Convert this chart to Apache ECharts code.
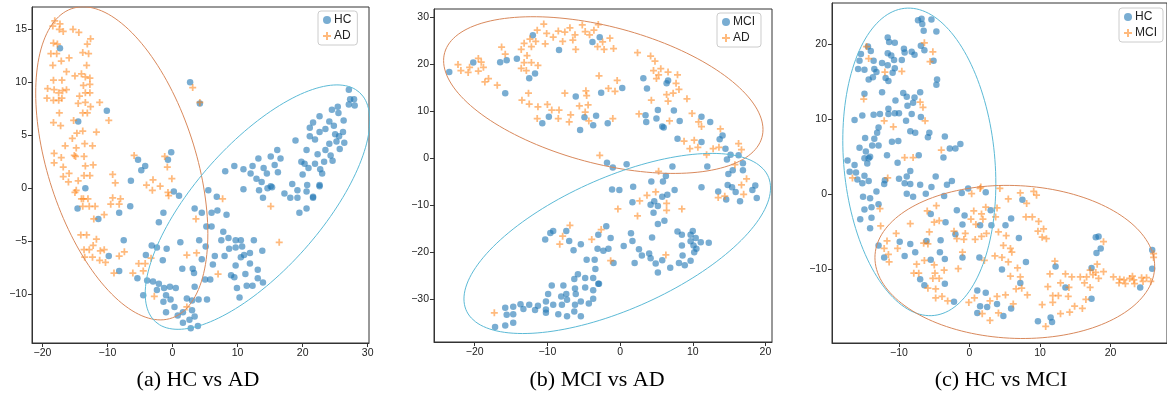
<!DOCTYPE html>
<html>
<head>
<meta charset="utf-8">
<script src="https://cdn.jsdelivr.net/npm/echarts@6/dist/echarts.min.js"></script>
<style>
html, body { margin: 0; padding: 0; background: #fff; }
#chart { width: 1167px; height: 395px; }
</style>
</head>
<body>
<div id="chart"></div>
<script>
// (a) HC vs AD
const hcA = [[-17.3,13.2],[-14.5,6.3],[-10.1,7.3],[-13.4,0.0],[-6.4,0.7],[-5.3,2.7],[-4.8,1.7],[-4.2,2.1],[-0.7,2.7],[-0.2,3.4],[0.2,-0.3],[1.0,-0.7],[2.7,10.0],[4.2,8.0],
  [-14.6,-1.9],[-11.4,-2.9],[-6.5,-1.7],[-8.2,-2.3],[-7.5,-4.9],[-9.8,-6.4],[-8.2,-7.8],[-5.4,-8.5],[-4.1,-6.3],[-3.2,-5.4],[-2.4,-5.6],[-0.9,-5.7],[-1.5,-6.8],[-1.4,-2.3],[-2.1,-3.2],[1.2,-5.1],[3.4,-1.9],[4.1,-4.9],
  [-4.5,-10.1],[-3.9,-8.7],[-3.0,-8.8],[-2.1,-9.0],[-2.4,-9.6],[-1.3,-9.4],[-0.4,-9.3],[0.5,-9.4],[-1.0,-10.1],[-1.4,-10.7],[-0.3,-10.5],[0.3,-11.2],[-1.0,-11.7],[0.8,-12.0],[1.6,-11.7],[2.2,-10.4],[1.5,-7.6],[3.1,-7.6],[3.3,-8.0],[3.4,-9.3],[3.0,-10.6],[4.0,-10.5],[3.0,-11.5],[1.6,-12.7],[2.6,-12.4],[2.8,-13.2],[3.9,-13.0],
  [27.1,9.3],[27.3,8.4],[27.9,8.4],[27.1,7.9],[28.0,7.8],[24.5,7.4],[25.4,7.7],[25.5,7.1],[22.6,6.8],[26.3,6.4],[21.6,6.2],[24.1,6.3],[21.1,5.7],[23.5,5.6],[24.8,5.9],[22.6,5.3],[21.1,4.9],[21.9,4.6],[25.0,5.1],[25.6,4.9],[26.2,5.3],[18.9,4.5],[24.1,4.2],[25.2,4.4],[26.4,4.3],[20.6,3.6],[23.5,3.6],[24.3,3.1],[22.3,3.2],[25.7,3.7],[16.1,3.6],[15.1,3.0],[13.2,2.8],[16.6,2.8],[19.8,2.5],[20.3,2.3],[21.9,2.3],[23.3,2.5],[24.6,2.6],[9.5,2.1],[10.9,1.8],[12.3,2.1],[15.7,2.2],[14.0,1.9],[8.1,1.6],[20.0,1.3],[20.9,1.9],[22.7,1.8],[23.0,1.4],[12.0,1.4],[12.9,0.9],[14.5,1.4],[16.2,1.5],[13.7,0.6],[14.6,0.0],[15.1,0.2],[18.4,0.4],[19.2,-0.2],[20.7,0.3],[20.6,-0.3],[22.6,0.3],[21.6,-0.8],[17.2,-0.5],[10.9,-0.1],[13.3,-0.2],[5.5,-0.2],[6.8,-0.8],
  [13.9,-0.9],[15.3,0.1],[18.1,-0.9],[19.2,-0.9],[21.6,-0.9],[22.6,0.2],[19.5,-2.3],[20.6,-1.9],[4.5,-2.3],[6.0,-2.3],[6.9,-2.1],[8.3,-2.5],[5.2,-3.6],[6.0,-3.6],[7.8,-4.1],[7.5,-4.9],[8.6,-4.7],[9.7,-4.9],[10.5,-4.9],[12.5,-4.9],[8.7,-5.7],[9.7,-5.6],[10.7,-5.5],[10.5,-6.5],[11.0,-6.3],[11.9,-6.1],[13.8,-5.9],[8.0,-6.4],[6.5,-6.4],[5.1,-5.5],[4.5,-6.7],[6.2,-7.2],[9.7,-7.3],[11.9,-7.1],[13.1,-7.7],[5.0,-8.6],[5.8,-8.6],[9.0,-8.2],[9.5,-8.4],[11.2,-8.1],[13.1,-8.5],[13.9,-8.9],[11.4,-9.2],[12.3,-9.2],[9.9,-9.4],[10.3,-10.3],[5.3,-10.5],[3.4,-12.1]];
const adA = [[-18.1,15.8],[-17.3,15.5],[-18.4,15.3],[-17.4,15.0],[-16.8,14.8],[-15.3,15.0],[-14.4,14.7],[-18.3,13.7],[-17.7,13.6],[-12.6,14.1],[-13.1,13.6],[-18.7,12.7],[-17.8,12.7],[-13.8,12.8],[-12.9,12.7],[-18.4,11.6],[-17.1,12.0],[-15.9,12.3],[-13.2,11.6],[-16.3,11.0],[-15.0,10.6],[-14.0,10.8],[-13.4,10.5],[-12.7,10.4],[-18.3,10.2],[-17.0,10.2],[-19.2,9.4],[-18.2,9.3],[-17.5,9.0],[-16.9,9.2],[-16.3,9.3],[-19.3,8.5],[-18.3,8.3],[-17.5,8.3],[-17.0,8.5],[-13.7,9.7],[-12.7,9.8],[-14.3,8.7],[-13.4,9.0],[-12.7,9.0],[-14.5,8.0],[-13.4,8.1],[-12.6,7.7],[-11.2,8.1],[-17.4,7.1],[-13.8,7.1],[-13.1,7.1],[-9.8,6.4],[-15.2,6.4],[-18.3,6.2],[-17.2,5.9],[-16.5,4.0],[-15.4,4.7],[-14.7,5.2],[-13.8,5.4],[-12.3,4.0],[-13.5,4.2],[-14.8,3.8],[-13.6,3.0],[-14.9,3.0],[-11.7,5.3],[-18.2,3.3],[-17.1,2.9],[-18.2,2.4],[-16.8,2.0],[-15.1,3.1],[-13.4,2.1],[-12.2,2.2],[-15.9,1.4],[-16.8,1.1],[-14.5,0.7],[-16.0,0.6],[-13.6,1.2],[-12.7,1.2],[-14.8,-0.2],[-13.7,-1.0],[-9.2,1.3],[-8.8,0.5],[-5.9,3.1],[-4.0,0.3],[-3.0,0.8],[-3.1,-0.2],[-1.9,0.2],[-1.2,3.0],[-0.8,2.0],[-0.1,0.9],[-0.7,-0.4],[-9.2,-0.9],[-8.0,-1.0],[3.1,9.5],[4.2,8.1],
  [-15.0,-0.4],[-14.0,-1.0],[-13.0,-1.0],[-13.8,-1.7],[-12.8,-1.7],[-11.9,-1.7],[-10.5,-2.5],[-12.1,-2.9],[-9.5,-1.5],[-8.2,-1.5],[-14.1,-4.4],[-13.2,-4.4],[-11.7,-4.8],[-13.6,-5.8],[-12.8,-5.8],[-12.2,-5.4],[-11.1,-5.9],[-10.5,-5.8],[-13.5,-6.5],[-12.3,-6.5],[-11.2,-6.8],[-10.3,-7.0],[-8.2,-6.4],[-7.4,-6.0],[-9.0,-8.0],[-6.1,-8.0],[-5.2,-7.1],[-4.2,-7.1],[-4.5,-7.8],[-3.3,-6.6],[-2.8,-10.2],[2.2,-6.3],[3.7,-6.1],[3.6,-2.9],[-0.6,-0.7],
  [7.7,-1.0],[15.1,-1.7],[7.0,-8.1],[16.4,-5.1],[2.2,-11.2]];

// (b) MCI vs AD
const mciB = [[-23.5,18.3],[-20.2,20.3],[-16.5,20.4],[-15.6,20.8],[-14.2,21.1],[-15.8,13.8],[-12.5,17.0],[-11.7,18.0],[-12.0,26.1],[-8.4,23.0],[-10.7,7.4],[-9.8,8.8],[-6.1,13.1],[-5.5,6.0],[-4.9,8.7],[-3.7,7.0],[-3.3,9.0],[-3.8,24.7],[-2.8,25.7],
  [3.2,17.0],[3.7,14.8],[6.4,15.9],[6.6,16.5],[0.3,14.9],[-2.6,13.9],[-1.7,7.4],[3.5,9.1],[3.6,7.7],[5.2,10.2],[5.0,8.4],[5.8,6.7],[6.0,6.5],[7.4,10.1],[8.2,7.9],[11.2,8.8],[12.4,7.7],[7.9,4.1],[11.2,3.4],[13.7,4.0],[14.1,4.8],[14.5,2.0],[15.2,0.7],[16.3,0.6],[14.7,-0.3],[16.9,-1.1],[-1.8,-1.0],[-1.0,-2.0],[0.9,-1.3],[7.2,-1.8],[12.0,-1.8],[15.5,-2.6],[16.9,-2.6],[14.9,-3.4],[6.3,-3.8],[5.9,-5.0],[4.3,-5.0],[1.8,-6.1],
  [-10.3,-17.3],[-9.6,-15.9],[-9.2,-15.5],[-7.4,-15.5],[-7.0,-17.6],[-6.4,-19.6],[-5.4,-18.3],[-3.1,-19.3],[-3.0,-16.3],[-4.6,-21.6],[-3.4,-23.6],[-3.5,-21.6],[-5.8,-24.7],[-6.3,-25.7],[-4.8,-25.5],[-3.7,-25.5],[-3.0,-26.7],[-6.2,-27.7],[-4.8,-27.5],[-3.7,-28.1],[-9.4,-27.1],[-7.8,-27.1],[-9.9,-28.9],[-8.1,-29.4],[-7.4,-28.9],[-7.3,-30.1],[-6.1,-28.9],[-5.4,-30.5],[-4.3,-30.9],[-3.7,-29.9],[-10.2,-30.5],[-9.2,-31.2],[-8.0,-31.2],[-6.2,-31.2],[-11.3,-31.4],[-10.2,-32.2],[-11.7,-32.3],[-12.5,-31.2],[-13.7,-31.1],[-13.3,-32.1],[-10.2,-32.9],[-8.5,-33.2],[-7.3,-33.6],[-6.3,-32.6],[-5.4,-33.6],[-15.8,-31.8],[-14.7,-31.6],[-15.6,-33.3],[-14.7,-33.2],[-14.7,-35.0],[-15.8,-35.6],[-17.2,-35.9],
  [-1.1,-6.7],[-0.1,-6.8],[7.5,-6.8],[11.2,-6.2],[14.8,-5.7],[13.5,-7.1],[14.6,-8.8],[15.4,-6.2],[15.9,-7.2],[16.5,-9.2],[18.2,-6.8],[18.6,-5.8],[18.8,-8.5],[1.7,-9.4],[4.2,-9.9],[4.7,-9.2],[5.2,-10.2],[5.8,-8.2],[6.5,-7.8],[4.6,-11.6],[5.2,-14.0],[6.1,-13.3],[-1.9,-14.5],[-1.3,-17.0],[-2.3,-19.7],[-1.6,-19.3],[0.5,-18.7],[1.5,-16.0],[1.7,-17.6],[2.6,-19.4],[3.0,-20.7],[2.0,-22.3],[4.0,-20.3],[4.2,-21.3],[4.9,-22.4],[5.2,-24.3],[4.4,-16.9],[5.8,-21.7],[6.9,-23.3],[7.9,-15.6],[8.5,-16.3],[8.5,-18.6],[8.6,-20.7],[8.1,-22.3],[8.9,-22.8],[9.7,-21.8],[9.7,-16.3],[10.0,-15.5],[9.7,-17.7],[10.4,-17.0],[10.1,-18.6],[10.5,-19.3],[10.2,-20.0],[11.1,-17.9],[12.2,-18.0],[-0.9,-22.3],[-2.9,-26.7]];
const adB = [[-22.3,19.9],[-21.9,18.6],[-20.9,18.2],[-20.7,19.3],[-19.5,21.2],[-19.1,20.4],[-18.8,19.3],[-19.5,18.5],[-18.6,16.2],[-18.1,16.9],[-16.9,15.5],[-16.3,23.6],[-15.8,22.1],[-13.6,23.1],[-13.2,24.4],[-12.8,21.8],[-12.4,25.3],[-12.2,23.7],[-11.6,24.8],[-11.4,27.2],[-10.5,28.5],[-10.1,26.5],[-10.3,24.3],[-9.2,25.7],[-8.5,27.0],[-7.9,24.8],[-7.6,26.8],[-6.9,27.7],[-6.2,26.2],[-6.5,25.1],[-6.1,23.1],[-5.2,28.3],[-4.8,26.9],[-4.2,26.2],[-3.6,27.2],[-3.0,28.4],[-13.2,20.3],[-13.6,19.1],[-12.9,18.6],[-12.2,20.3],[-11.3,19.7],[-12.6,13.8],[-13.5,12.3],[-12.5,11.5],[-11.3,10.9],[-10.0,11.4],[-9.4,10.2],[-8.4,10.2],[-11.4,8.4],[-8.5,8.4],[-6.8,9.2],[-7.0,7.7],[-7.6,13.8],[-5.6,11.1],[-4.7,14.3],[-4.6,13.3],[-4.4,11.3],[-4.8,9.8],[-4.3,7.9],[-2.9,17.5],[-2.8,0.6],
  [-2.4,24.7],[-1.4,25.5],[-3.1,23.7],[-2.2,23.1],[-0.9,23.3],[2.4,22.4],[4.2,21.7],[4.8,20.6],[4.6,18.6],[5.6,19.0],[5.3,17.7],[5.0,16.9],[6.6,18.3],[7.9,17.7],[7.7,15.9],[7.3,13.8],[8.1,14.6],[6.4,13.5],[4.3,12.3],[6.6,12.1],[9.2,12.6],[-0.4,16.5],[-1.6,14.8],[-0.7,14.2],[-1.0,8.4],[2.6,9.4],[6.8,7.9],[9.9,9.5],[10.8,7.7],[11.2,6.7],[13.8,6.2],[8.8,3.6],[9.6,2.0],[10.2,3.8],[10.7,2.3],[11.9,0.7],[12.8,2.0],[13.6,2.3],[16.3,3.1],[16.7,1.8],[15.8,-1.4],[17.4,-4.4],[16.7,-5.7],[5.3,-2.8],
  [-6.9,-14.3],[-7.9,-16.6],[-8.3,-18.3],[-3.9,-17.3],[-17.3,-32.9],
  [-0.3,-10.8],[2.4,-12.3],[2.7,-9.1],[3.7,-7.9],[4.9,-7.2],[6.4,-9.6],[6.4,-11.1],[8.5,-10.8],[13.5,-8.4],[14.4,-8.1],[17.0,-7.7],[-2.6,-15.2],[-1.3,-21.8],[6.3,-20.6]];

// (c) HC vs MCI
const hcC = [[-7.3,23.2],[-6.8,23.4],[-6.7,22.7],[-6.5,21.8],[-5.4,23.3],[-4.7,21.7],[-15.4,18.7],[-15.6,17.8],[-15.8,16.7],[-14.4,19.7],[-14.0,19.1],[-14.9,16.6],[-14.3,15.3],[-13.6,17.8],[-13.5,16.7],[-13.7,15.6],[-13.2,16.3],[-11.6,20.9],[-11.4,20.3],[-10.6,20.2],[-11.6,18.8],[-11.1,18.5],[-12.4,17.5],[-11.6,17.2],[-10.7,17.9],[-11.9,15.5],[-11.5,15.1],[-10.9,16.2],[-10.6,16.8],[-9.6,17.9],[-9.3,19.4],[-9.2,18.9],[-8.2,19.0],[-7.8,18.6],[-6.9,19.8],[-6.4,19.2],[-5.1,17.8],[-4.6,15.3],[-4.7,14.6],[-14.9,13.4],[-16.3,9.9],[-15.2,10.5],[-12.4,13.6],[-10.5,12.5],[-9.4,13.5],[-8.9,13.0],[-8.8,11.8],[-7.8,12.9],[-8.0,12.2],[-7.0,13.6],[-11.5,11.4],[-11.5,10.7],[-10.6,10.8],[-10.0,10.8],[-13.6,10.6],[-12.7,10.7],[-9.0,9.8],[-8.2,10.7],[-6.9,10.3],[-8.4,8.4],[-7.7,8.2],[-5.7,8.2],[-5.9,7.6],[-3.5,7.7],[-1.3,6.7],[-2.8,6.1],[-2.0,6.1],[-3.7,4.9],[-7.2,5.2],[-10.2,4.2],[-11.7,5.2],[-11.0,7.0],[-10.1,7.1],[-12.9,8.9],[-13.1,8.2],[-13.5,7.4],[-13.8,6.5],[-12.9,6.5],[-14.8,7.5],[-15.6,6.2],[-14.7,5.7],[-14.9,4.8],[-14.3,4.8],[-14.5,4.1],[-14.1,5.0],[-17.3,4.5],[-16.3,3.9],[-17.0,3.0],[-16.1,2.9],[-15.9,2.0],[-14.9,2.5],[-14.3,1.8],[-15.2,1.5],[-12.0,1.9],[-12.1,1.4],[-10.0,2.1],[-8.9,2.4],[-8.4,3.1],[-9.2,1.5],[-8.4,1.4],[-7.0,1.3],[-4.8,2.4],[-5.4,1.0],[-3.2,1.3],[-2.5,1.8],[-0.2,0.8],
  [-15.1,-0.3],[-14.1,-0.5],[-13.2,0.4],[-14.9,-2.0],[-13.9,-1.7],[-12.9,-1.3],[-15.5,-3.3],[-13.9,-3.1],[-14.1,-4.5],[-12.9,-6.8],[-12.1,-8.4],[-8.9,0.1],[-8.0,-0.3],[-6.2,0.1],[-3.6,-0.2],[-5.5,-2.6],[-3.4,-3.7],[-4.1,-6.1],[-9.9,-6.3],[-8.4,-6.6],[-6.1,-6.2],[-7.7,-7.7],[-9.2,-8.2],[-5.5,-8.7],[-4.2,-7.7],[-3.5,-8.6],[-7.0,-11.3],[-6.4,-12.1],[-3.5,-11.9],[-2.2,-14.3],[-1.8,-2.1],[-0.7,-2.8],[-2.0,-5.3],[-1.0,-4.0],[1.5,-4.1],[-1.0,-8.4],[1.4,-8.4],[-1.1,0.2],[2.3,0.3],
  [3.0,-2.1],[3.1,-4.1],[5.1,-4.1],[5.9,-3.2],[7.5,-0.7],[7.0,-5.8],[4.6,-10.0],[8.0,-9.0],[7.2,-11.8],[1.1,-12.8],[2.3,-13.1],[1.5,-14.9],[2.5,-15.0],[1.1,-15.8],[3.9,-14.6],[4.8,-16.2],[5.9,-15.2],[9.7,-16.9],[11.5,-16.4],[11.7,-17.0],[12.2,-9.6],[13.6,-12.4],[17.3,-9.8],[17.3,-13.9],[17.9,-5.7],[18.3,-5.6],[18.0,-7.8],[18.6,-7.2],[24.2,-12.4],[25.9,-7.4],[25.9,-9.9]];
const mciC = [[-14.6,19.7],[-14.3,18.1],[-12.0,16.3],[-9.6,16.4],[-15.0,12.7],[-7.0,12.3],[-6.6,11.6],[-6.3,9.8],[-12.1,9.8],[-10.8,9.0],[-6.4,20.2],[-5.2,19.0],[-5.6,17.7],[-4.0,5.9],[-9.2,4.9],[-8.0,4.9],[-11.6,2.2],[-16.6,2.2],[1.6,1.0],
  [-12.7,-1.9],[-12.6,-4.2],[-11.7,-6.2],[-12.1,-7.2],[-11.5,-8.0],[-11.4,-9.0],[-10.4,-5.2],[-10.2,-7.2],[-8.4,-3.9],[-6.5,-6.5],[-5.7,-5.0],[-7.5,-9.3],[-7.9,-10.5],[-7.2,-10.5],[-6.4,-8.8],[-6.0,-2.2],[-5.0,-3.7],[-4.3,-3.5],[-4.7,-1.5],[-5.9,-6.6],[-5.0,-9.4],[-4.9,-10.5],[-5.2,-11.2],[-4.3,-11.2],[-5.9,-12.5],[-4.8,-12.6],[-4.8,-13.8],[-3.9,-13.6],[-3.1,-14.2],[-3.6,-10.1],[-1.6,-9.9],[-2.2,-4.9],[-1.8,-5.9],[-0.8,-6.0],[-0.6,-5.2],[-1.0,-7.7],[0.2,-3.3],[0.6,-2.2],[0.8,-6.0],[1.7,-5.6],[1.7,-2.6],[1.9,-3.3],[0.9,-4.0],[0.3,0.1],[-0.1,-14.4],[0.7,-13.8],[1.8,-15.9],[2.1,-8.8],
  [1.5,0.8],[4.3,0.8],[5.5,-0.6],[7.2,0.2],[9.1,0.4],[9.5,-0.1],[8.1,-1.2],[2.3,-1.7],[3.9,-1.8],[3.7,-3.0],[2.4,-5.2],[4.1,-5.0],[5.2,-5.5],[4.8,-6.8],[5.8,-7.2],[6.0,-7.7],[8.0,-3.0],[8.9,-3.0],[9.8,-3.6],[9.7,-4.9],[10.5,-4.6],[10.3,-5.7],[10.9,-5.9],[3.6,-8.2],[4.6,-8.4],[5.5,-9.0],[5.8,-10.9],[6.8,-9.8],[7.2,-11.0],[6.6,-12.6],[7.4,-12.5],[8.2,-13.4],[5.1,-13.4],[3.9,-13.6],[2.9,-14.2],[4.1,-15.8],[6.2,-14.6],[2.9,-16.8],[11.4,-10.6],[12.1,-8.9],[11.1,-12.3],[11.8,-13.5],[12.6,-13.5],[11.8,-14.4],[10.3,-14.7],[12.9,-15.9],[10.8,-17.6],[14.0,-13.6],[14.1,-12.4],[13.6,-10.6],[12.9,-11.8],[14.5,-11.0],[14.9,-14.9],[16.0,-15.2],[14.2,-15.7],[15.7,-11.0],[16.6,-11.0],[16.3,-11.8],[16.5,-14.0],[17.1,-12.4],[17.1,-10.1],[17.5,-10.7],[17.9,-10.4],[18.3,-11.2],[19.0,-10.3],[18.1,-9.3],[19.0,-6.3],[20.4,-11.0],[21.3,-11.3],[21.2,-11.8],[21.9,-11.4],[22.7,-11.2],[23.1,-10.9],[22.1,-11.9],[23.4,-11.9],[23.3,-11.4],[24.4,-11.1],[24.6,-11.6],[25.1,-11.1],[25.7,-11.6],[26.1,-7.9],[26.1,-8.4]];

// ellipses: [centerX, centerY, halfWidth, halfHeight, correlation]
const ellA_AD = [-7.8, 2.35, 13.23, 14.77, -0.449];
const ellA_HC = [13.06, -1.78, 17.26, 11.53, 0.708];
const ellB_AD = [-2.31, 13.4, 21.97, 16.66, -0.44];
const ellB_MCI = [-0.39, -18.15, 21.09, 19.15, 0.616];
const ellC_HC = [-7.12, 4.33, 10.85, 20.49, -0.14];
const ellC_MCI = [6.42, -9.0, 19.83, 10.2, -0.056];

// tick labels
const xTicksA = [-20, -10, 0, 10, 20, 30];
const yTicksA = [-10, -5, 0, 5, 10, 15];
const xTicksB = [-20, -10, 0, 10, 20];
const yTicksB = [-30, -20, -10, 0, 10, 20, 30];
const xTicksC = [-10, 0, 10, 20];
const yTicksC = [-10, 0, 10, 20];

const captions = ['(a) HC vs AD', '(b) MCI vs AD', '(c) HC vs MCI'];

const BLUE = 'rgba(31,119,180,0.75)';
const ORANGE = 'rgba(255,127,14,0.68)';
const ELL_ORANGE = '#d9895c';
const ELL_CYAN = '#5cbad6';
const PLUS = 'path://M3,0h2v3h3v2h-3v3h-2v-3h-3v-2h3z';

const myChart = echarts.init(document.getElementById('chart'), null, { renderer: 'canvas' });

const grids = [
    { left: 32, top: 7, width: 337, height: 336 },
    { left: 434, top: 9, width: 338, height: 333 },
    { left: 832, top: 3, width: 340, height: 340 }
];
const xRanges = [[-21.6, 30.2], [-25.6, 20.9], [-19.5, 28]];
const yRanges = [[-14.6, 17.1], [-39.1, 31.7], [-19.8, 25.5]];
const xTicks = [xTicksA, xTicksB, xTicksC];
const yTicks = [yTicksA, yTicksB, yTicksC];

function fmt(v) { return String(v).replace('-', '\u2212'); }

function axis(i, range, ticks) {
    return {
        type: 'value', gridIndex: i, min: range[0], max: range[1],
        axisLine: { show: true, onZero: false, lineStyle: { color: '#333', width: 1 } },
        axisTick: { show: true, customValues: ticks, length: 4, lineStyle: { color: '#333' } },
        axisLabel: { customValues: ticks, formatter: fmt, fontSize: 10.5, fontFamily: 'Liberation Sans', color: '#222', margin: 5 },
        splitLine: { show: false }
    };
}

function scatter(name, data, i, plus) {
    return {
        type: 'scatter', name: name, data: data, xAxisIndex: i, yAxisIndex: i,
        symbol: plus ? PLUS : 'circle', symbolSize: plus ? 7 : 6.5,
        itemStyle: { color: plus ? ORANGE : BLUE },
        silent: true, z: plus ? 3 : 2
    };
}

function ellipse(p, i, color) {
    const pts = [];
    const k = Math.sqrt(1 - p[4] * p[4]);
    for (let j = 0; j <= 160; j++) {
        const t = j / 160 * 2 * Math.PI;
        pts.push([p[0] + p[2] * Math.cos(t), p[1] + p[3] * (p[4] * Math.cos(t) + k * Math.sin(t))]);
    }
    return {
        type: 'line', data: pts, xAxisIndex: i, yAxisIndex: i, symbol: 'none',
        lineStyle: { color: color, width: 1 }, silent: true, z: 4, animation: false
    };
}

const legendBase = {
    orient: 'vertical', itemWidth: 8, itemHeight: 8, itemGap: 4,
    padding: [3, 6, 3, 5], borderColor: '#ccc', borderWidth: 1, borderRadius: 3,
    backgroundColor: '#fff', selectedMode: false,
    formatter: n => n.split('_')[0],
    textStyle: { fontSize: 12, fontFamily: 'Liberation Sans', color: '#222', padding: [0, 0, 0, -2] }
};

var option = {
    animation: false,
    grid: grids.map(g => Object.assign({ show: true, borderColor: '#333', borderWidth: 1, backgroundColor: '#fff' }, g)),
    xAxis: [0, 1, 2].map(i => axis(i, xRanges[i], xTicks[i])),
    yAxis: [0, 1, 2].map(i => axis(i, yRanges[i], yTicks[i])),
    legend: [
        Object.assign({ data: ['HC_a', 'AD_a'], left: 318, top: 11 }, legendBase),
        Object.assign({ data: ['MCI_b', 'AD_b'], left: 717, top: 13 }, legendBase),
        Object.assign({ data: ['HC_c', 'MCI_c'], left: 1119, top: 8 }, legendBase)
    ],
    series: [
        scatter('HC_a', hcA, 0, false), scatter('AD_a', adA, 0, true),
        ellipse(ellA_AD, 0, ELL_ORANGE), ellipse(ellA_HC, 0, ELL_CYAN),
        scatter('MCI_b', mciB, 1, false), scatter('AD_b', adB, 1, true),
        ellipse(ellB_AD, 1, ELL_ORANGE), ellipse(ellB_MCI, 1, ELL_CYAN),
        scatter('HC_c', hcC, 2, false), scatter('MCI_c', mciC, 2, true),
        ellipse(ellC_HC, 2, ELL_CYAN), ellipse(ellC_MCI, 2, ELL_ORANGE)
    ],
    graphic: captions.map((c, i) => ({
        type: 'text', x: [198, 597, 1001][i], y: 380,
        style: { text: c, font: '22px "Liberation Serif"', fill: '#000', align: 'center', verticalAlign: 'middle' }
    }))
};
myChart.setOption(option);
</script>
</body>
</html>
